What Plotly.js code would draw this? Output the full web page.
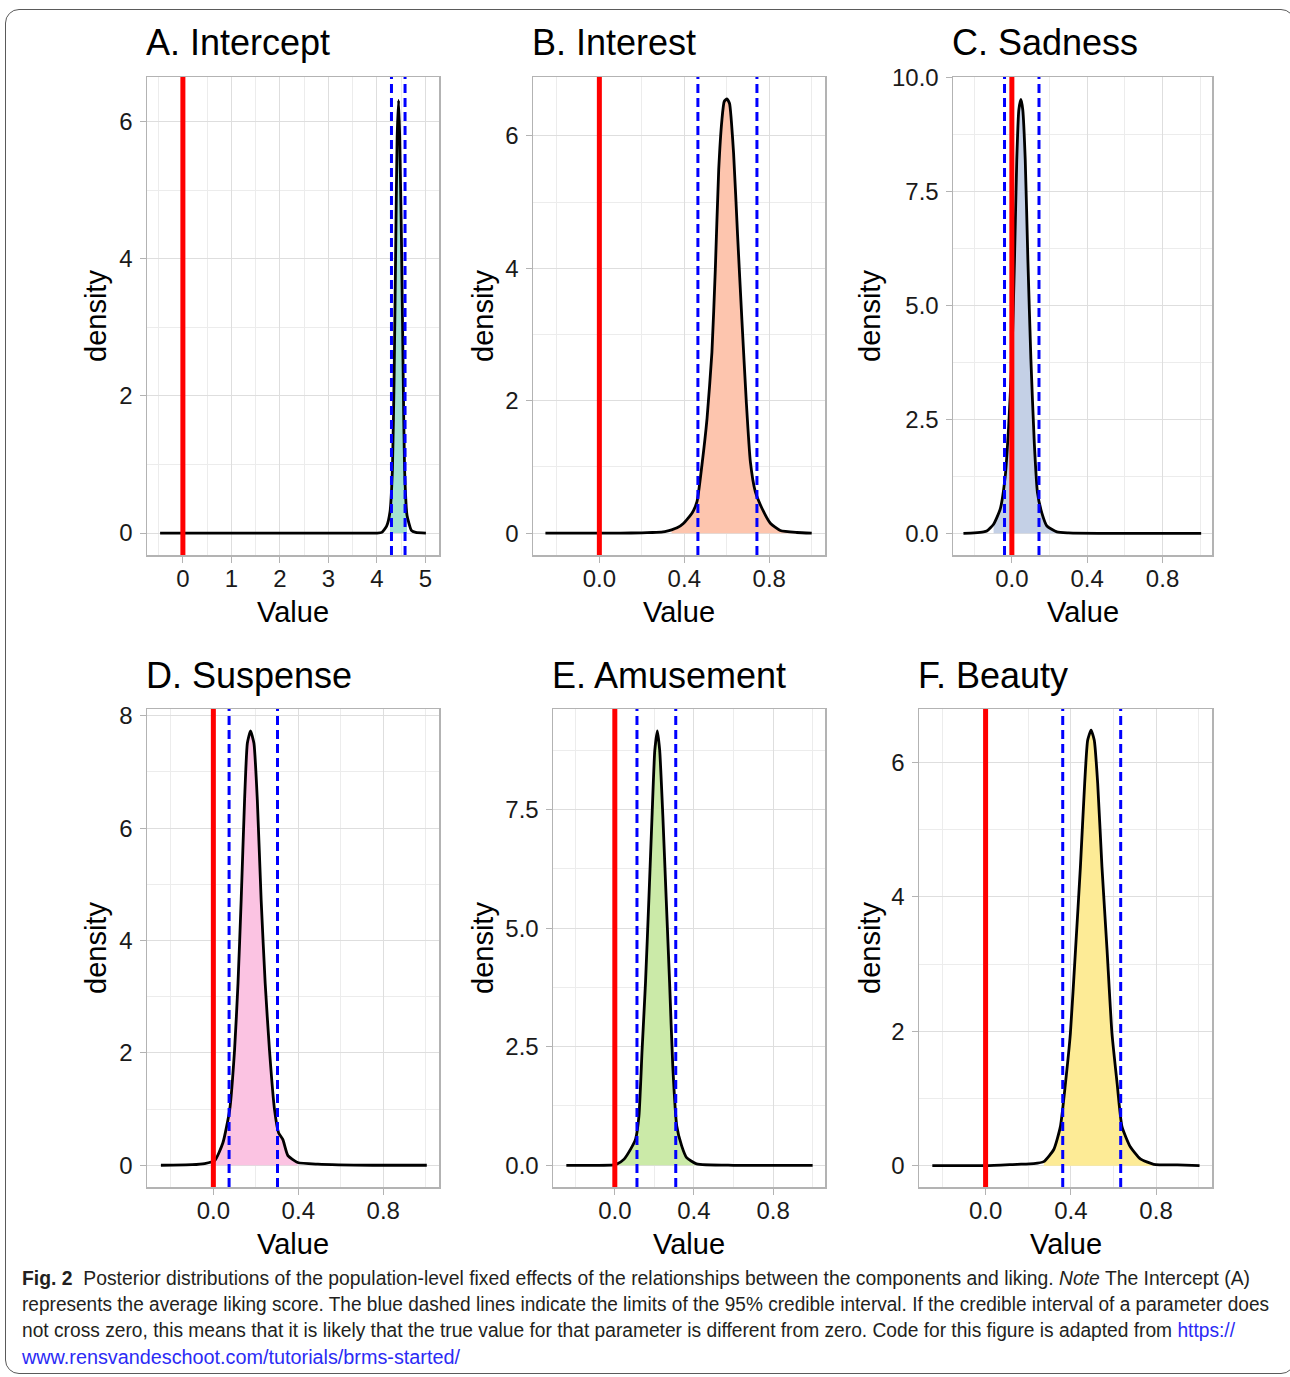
<!DOCTYPE html>
<html>
<head>
<meta charset="utf-8">
<script src="https://cdn.plot.ly/plotly-3.0.1.min.js"></script>
<style>
html,body{margin:0;padding:0;background:#ffffff;}
#wrap{position:relative;width:1290px;height:1377px;overflow:hidden;background:#fff;}
#chart{position:absolute;left:0;top:0;width:1290px;height:1377px;}
#frame{position:absolute;left:5px;top:9px;width:1290px;height:1365px;border:1.3px solid #5a5a5a;border-radius:14px;box-sizing:border-box;pointer-events:none;}
.cap{position:absolute;left:22px;white-space:nowrap;font-family:"Liberation Sans Narrow","Liberation Sans",sans-serif;font-size:20px;line-height:26px;color:#231f20;transform-origin:0 50%;}
.cap a{color:#2b2bf5;text-decoration:none;}
</style>
</head>
<body>
<div id="wrap">
  <div id="chart"></div>
  <div id="frame"></div>
  <div class="cap" id="c1" style="top:1265px;"><b>Fig. 2</b>&nbsp;&nbsp;Posterior distributions of the population-level fixed effects of the relationships between the components and liking. <i>Note</i> The Intercept (A)</div>
  <div class="cap" id="c2" style="top:1291px;">represents the average liking score. The blue dashed lines indicate the limits of the 95% credible interval. If the credible interval of a parameter does</div>
  <div class="cap" id="c3" style="top:1317px;">not cross zero, this means that it is likely that the true value for that parameter is different from zero. Code for this figure is adapted from <a>https://</a></div>
  <div class="cap" id="c4" style="top:1344px;"><a>www.rensvandeschoot.com/tutorials/brms-started/</a></div>
</div>
<script>
// ---------- data ----------
const panelTitles = ['A. Intercept', 'B. Interest', 'C. Sadness', 'D. Suspense', 'E. Amusement', 'F. Beauty'];

const xA = [-0.47, 0.5, 1.5, 2.5, 3.5, 4.0, 4.1, 4.2, 4.27, 4.32, 4.357, 4.39, 4.417, 4.447, 4.47, 4.505, 4.54, 4.57, 4.62, 4.71, 4.8, 5.01];
const yA = [0, 0, 0, 0, 0, 0, 0.01, 0.10, 0.31, 0.94, 2.39, 4.32, 5.77, 6.31, 5.77, 4.32, 2.39, 0.94, 0.26, 0.04, 0.01, 0];

const xB = [-0.254, 0.0, 0.1, 0.2, 0.25, 0.3, 0.318, 0.34, 0.366, 0.397, 0.436, 0.46, 0.483, 0.507, 0.53, 0.546, 0.562, 0.577, 0.588, 0.601, 0.613, 0.632, 0.651, 0.671, 0.692, 0.711, 0.734, 0.765, 0.805, 0.852, 0.93, 1.0];
const yB = [0, 0, 0, 0.005, 0.01, 0.02, 0.03, 0.05, 0.08, 0.15, 0.30, 0.48, 1.03, 1.73, 2.73, 3.98, 5.49, 6.24, 6.52, 6.56, 6.49, 5.74, 4.49, 3.23, 1.98, 1.08, 0.63, 0.38, 0.15, 0.04, 0.01, 0];

const xC = [-0.257, -0.2, -0.15, -0.133, -0.097, -0.062, -0.035, -0.017, 0.0, 0.014, 0.026, 0.037, 0.048, 0.058, 0.071, 0.085, 0.101, 0.119, 0.136, 0.159, 0.186, 0.239, 0.3, 0.5, 0.75, 1.005];
const yC = [0, 0.01, 0.03, 0.05, 0.20, 0.53, 1.26, 2.35, 3.82, 6.01, 8.20, 9.30, 9.53, 9.30, 8.20, 6.01, 3.82, 1.99, 0.89, 0.45, 0.16, 0.03, 0.01, 0, 0, 0];

const xD = [-0.247, -0.1, -0.041, 0.006, 0.045, 0.077, 0.100, 0.116, 0.131, 0.147, 0.160, 0.175, 0.191, 0.207, 0.225, 0.244, 0.264, 0.288, 0.307, 0.327, 0.351, 0.397, 0.492, 0.75, 1.005];
const yD = [0, 0.01, 0.03, 0.08, 0.40, 0.99, 2.06, 3.24, 4.72, 6.50, 7.51, 7.73, 7.51, 6.50, 4.72, 3.24, 2.06, 0.99, 0.58, 0.46, 0.17, 0.05, 0.02, 0, 0];

const xE = [-0.245, 0.0, 0.013, 0.047, 0.08, 0.105, 0.122, 0.138, 0.155, 0.172, 0.188, 0.202, 0.215, 0.227, 0.243, 0.26, 0.277, 0.293, 0.313, 0.338, 0.363, 0.413, 0.6, 1.0];
const yE = [0, 0.01, 0.03, 0.13, 0.34, 0.55, 1.04, 2.44, 3.84, 5.59, 7.34, 8.74, 9.16, 8.74, 7.34, 5.59, 3.84, 2.09, 0.83, 0.41, 0.16, 0.03, 0, 0];

const xF = [-0.25, 0.0, 0.148, 0.226, 0.273, 0.32, 0.351, 0.375, 0.398, 0.422, 0.445, 0.465, 0.479, 0.495, 0.51, 0.526, 0.546, 0.57, 0.593, 0.617, 0.64, 0.679, 0.726, 0.789, 0.9, 1.004];
const yF = [0, 0, 0.02, 0.03, 0.06, 0.24, 0.58, 1.23, 1.97, 3.21, 4.45, 5.69, 6.33, 6.48, 6.33, 5.69, 4.45, 3.21, 1.97, 1.23, 0.58, 0.28, 0.10, 0.02, 0.01, 0];

const ciLower = [4.30, 0.464, -0.039, 0.074, 0.112, 0.362];
const ciUpper = [4.58, 0.742, 0.144, 0.302, 0.308, 0.634];
const fillLo = [4.27, 0.34, -0.10, 0.006, 0.013, 0.27];
const fillHi = [4.62, 0.93, 0.24, 0.397, 0.413, 0.79];
const refValue = 0;

const xTickLabelsA = ['0', '1', '2', '3', '4', '5'];
const xTickLabelsBF = ['0.0', '0.4', '0.8'];

// ---------- styling ----------
const fillColors = ['#a3e2d2', '#fdc5ae', '#c4d0e6', '#fbc3e2', '#cbeaa8', '#fdeb96'];
const xs = [xA, xB, xC, xD, xE, xF];
const ys = [yA, yB, yC, yD, yE, yF];

const W = 1290, H = 1377;
const colPx = [[147, 439], [533, 825], [953, 1212], [147, 439], [553, 825], [919, 1212]];
const rowPx = [[77, 555], [77, 555], [77, 555], [709, 1187], [709, 1187], [709, 1187]];
const xRanges = [[-0.74, 5.28], [-0.3125, 1.0625], [-0.3125, 1.0625], [-0.3125, 1.0625], [-0.3125, 1.0625], [-0.3125, 1.0625]];
const yRanges = [[-0.32, 6.65], [-0.33, 6.89], [-0.477, 10.02], [-0.387, 8.12], [-0.458, 9.62], [-0.318, 6.795]];
const yDt = [2, 2, 2.5, 2, 2.5, 2];
const yFmt = ['d', 'd', '.1f', 'd', '.1f', 'd'];

const FONT = '"Liberation Sans", Arial, Helvetica, sans-serif';
const traces = [];
const shapes = [];
const annotations = [];
const layout = {
  width: W, height: H,
  margin: {l: 0, r: 0, t: 0, b: 0},
  paper_bgcolor: 'rgba(0,0,0,0)',
  plot_bgcolor: '#ffffff',
  showlegend: false,
  font: {family: FONT, color: '#1a1a1a', size: 24}
};

for (let i = 0; i < 6; i++) {
  const n = i === 0 ? '' : String(i + 1);
  const xa = 'x' + n, ya = 'y' + n;
  const fx = [], fy = [];
  for (let k = 0; k < xs[i].length; k++) {
    if (xs[i][k] >= fillLo[i] && xs[i][k] <= fillHi[i]) { fx.push(xs[i][k]); fy.push(ys[i][k]); }
  }
  traces.push({x: fx, y: fy, xaxis: xa, yaxis: ya, type: 'scatter', mode: 'lines',
    fill: 'tozeroy', fillcolor: fillColors[i], line: {width: 0, color: fillColors[i], shape: 'spline', smoothing: 0.5}, hoverinfo: 'skip'});
  traces.push({x: xs[i], y: ys[i], xaxis: xa, yaxis: ya, type: 'scatter', mode: 'lines',
    line: {width: 2.8, color: '#000000', shape: 'spline', smoothing: 0.5}, hoverinfo: 'skip'});

  const dx = [colPx[i][0] / W, colPx[i][1] / W];
  const dy = [1 - rowPx[i][1] / H, 1 - rowPx[i][0] / H];
  const isA = i === 0;
  layout['xaxis' + n] = {
    domain: dx, anchor: ya, range: xRanges[i], fixedrange: true,
    tickmode: 'array',
    tickvals: isA ? [0, 1, 2, 3, 4, 5] : [0, 0.4, 0.8],
    ticktext: isA ? xTickLabelsA : xTickLabelsBF,
    ticks: 'outside', ticklen: 6, tickwidth: 1, tickcolor: '#b3b3b3',
    showgrid: true, gridcolor: '#dedede', gridwidth: 1,
    minor: {tickmode: 'linear', tick0: isA ? -0.5 : -0.2, dtick: isA ? 1 : 0.4, showgrid: true, gridcolor: '#ececec', gridwidth: 1, ticks: ''},
    zeroline: false, showline: true, mirror: true, linecolor: '#b3b3b3', linewidth: 1.5,
    tickfont: {size: 24, color: '#1a1a1a', family: FONT}, ticklabelstandoff: -4
  };
  layout['yaxis' + n] = {
    domain: dy, anchor: xa, range: yRanges[i], fixedrange: true,
    tickmode: 'linear', tick0: 0, dtick: yDt[i], tickformat: yFmt[i],
    ticks: 'outside', ticklen: 6, tickwidth: 1, tickcolor: '#b3b3b3',
    showgrid: true, gridcolor: '#dedede', gridwidth: 1,
    minor: {tickmode: 'linear', tick0: yDt[i] / 2, dtick: yDt[i], showgrid: true, gridcolor: '#ececec', gridwidth: 1, ticks: ''},
    zeroline: false, showline: true, mirror: true, linecolor: '#b3b3b3', linewidth: 1.5,
    tickfont: {size: 24, color: '#1a1a1a', family: FONT}, ticklabelstandoff: 2
  };

  // reference line at zero and credible-interval limits
  shapes.push({type: 'line', xref: xa, yref: ya + ' domain', x0: refValue, x1: refValue, y0: 0, y1: 1,
    line: {color: '#ff0000', width: 5}, layer: 'above'});
  [ciLower[i], ciUpper[i]].forEach(v => {
    shapes.push({type: 'line', xref: xa, yref: ya + ' domain', x0: v, x1: v, y0: 0, y1: 1,
      line: {color: '#0000ff', width: 3, dash: '9px,5px'}, layer: 'above'});
  });

  // titles
  const topPx = rowPx[i][0];
  annotations.push({text: panelTitles[i], xref: 'paper', yref: 'paper', x: (colPx[i][0] - 3) / W, y: 1 - (topPx - 34) / H,
    xanchor: 'left', yanchor: 'middle', showarrow: false, font: {size: 36, color: '#000', family: FONT}});
  annotations.push({text: 'Value', xref: 'paper', yref: 'paper', x: (colPx[i][0] + colPx[i][1]) / 2 / W, y: 1 - (rowPx[i][1] + 57) / H,
    xanchor: 'center', yanchor: 'middle', showarrow: false, font: {size: 29, color: '#000', family: FONT}});
  const densX = [96, 483, 870, 96, 483, 870][i];
  annotations.push({text: 'density', xref: 'paper', yref: 'paper', x: densX / W, y: 1 - (rowPx[i][0] + rowPx[i][1]) / 2 / H,
    xanchor: 'center', yanchor: 'middle', textangle: -90, showarrow: false, font: {size: 29, color: '#000', family: FONT}});
}
layout.shapes = shapes;
layout.annotations = annotations;

Plotly.newPlot('chart', traces, layout, {staticPlot: true, displayModeBar: false}).then(() => {
  const targets = {c1: 1228, c2: 1247, c3: 1213, c4: 438};
  Object.keys(targets).forEach(id => {
    const el = document.getElementById(id);
    const w = el.getBoundingClientRect().width;
    if (w > 0) el.style.transform = 'scaleX(' + (targets[id] / w) + ')';
  });
});
</script>
</body>
</html>
